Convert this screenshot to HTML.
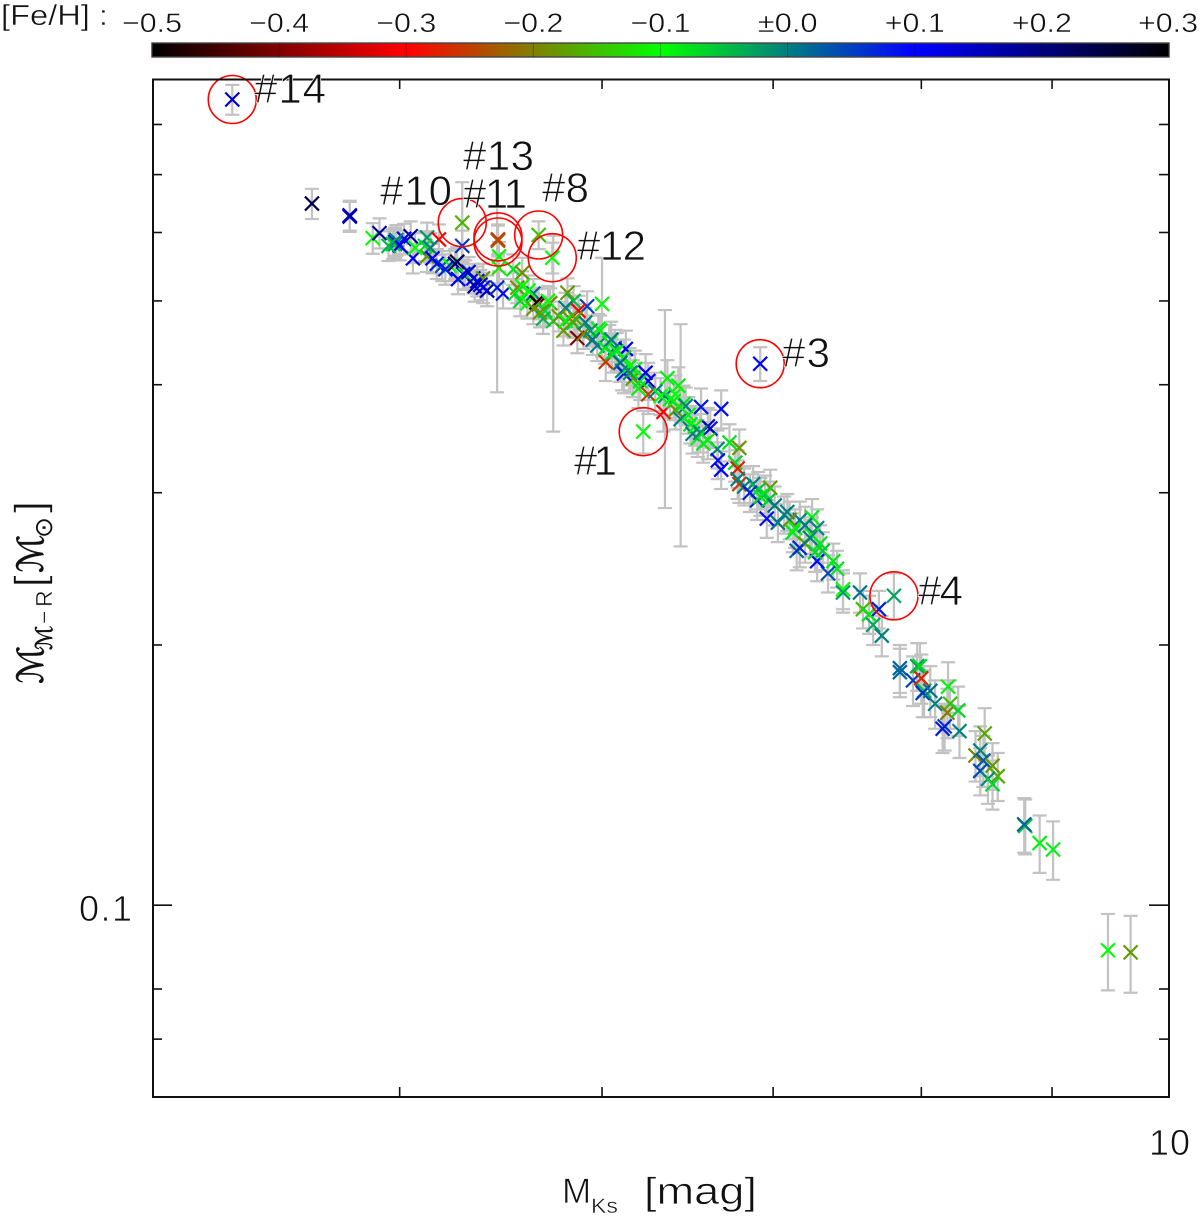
<!DOCTYPE html>
<html lang="en">
<head>
<meta charset="utf-8">
<title>Mass vs. absolute Ks magnitude</title>
<style>
html,body{margin:0;padding:0;background:#fff;}
svg{display:block;}
text{font-family:"Liberation Sans","DejaVu Sans",sans-serif;fill:#111;}
.thin{stroke:#fff;stroke-width:.7;}
.thin2{stroke:#fff;stroke-width:.45;}
.script{font-family:"DejaVu Serif","DejaVu Sans",serif;font-style:italic;stroke:#111;stroke-width:.5;}
</style>
</head>
<body>
<svg id="chart" xmlns="http://www.w3.org/2000/svg" width="1200" height="1216" viewBox="0 0 1200 1216">
  <defs>
    <linearGradient id="feh-gradient" x1="0" x2="1" y1="0" y2="0"></linearGradient>
  </defs>

  <text class="thin2" x="1" y="25" font-size="29" textLength="107" lengthAdjust="spacingAndGlyphs">[Fe/H] :</text>
  <g id="colorbar"></g>

  <g id="errorbars"></g>
  <g id="points"></g>
  <g id="circles"></g>

  <rect x="153" y="79.5" width="1016" height="1017.5" fill="none" stroke="#111" stroke-width="2"></rect>
  <g id="ticks"></g>

  <text class="thin" x="132" y="921" font-size="36" text-anchor="end" textLength="53" lengthAdjust="spacing">0.1</text>
  <text class="thin" x="1149" y="1155" font-size="36" textLength="41" lengthAdjust="spacing">10</text>

  <g>
    <text class="thin" x="562" y="1203" font-size="35">M</text>
    <text class="thin2" x="591" y="1213" font-size="21" textLength="27" lengthAdjust="spacingAndGlyphs">Ks</text>
    <text class="thin" x="644" y="1204" font-size="38" textLength="113" lengthAdjust="spacingAndGlyphs">[mag]</text>
  </g>

  <g transform="translate(43,684) rotate(-90)">
    <text class="script" x="0" y="0" font-size="36">ℳ</text>
    <text class="script" x="34" y="9" font-size="23">ℳ</text>
    <text class="thin2" x="60" y="9" font-size="23">−</text>
    <text class="thin2" x="77" y="9" font-size="23">R</text>
    <text class="thin" x="97" y="1" font-size="42">[</text>
    <text class="script" x="111" y="0" font-size="36">ℳ</text>
    <text x="146" y="9" font-size="25" style="font-family:'DejaVu Sans',sans-serif">⊙</text>
    <text class="thin" x="171" y="1" font-size="42">]</text>
  </g>

  <g>
    <text class="thin" x="254" y="103" font-size="42" textLength="72" lengthAdjust="spacing">#14</text>
    <text class="thin" x="463" y="170" font-size="42" textLength="71" lengthAdjust="spacing">#13</text>
    <text class="thin" x="380" y="205" font-size="42" textLength="72" lengthAdjust="spacing">#10</text>
    <text class="thin" x="463" y="208" font-size="42" textLength="64" lengthAdjust="spacing">#11</text>
    <text class="thin" x="542" y="202" font-size="42" textLength="47" lengthAdjust="spacing">#8</text>
    <text class="thin" x="577" y="260" font-size="42" textLength="69" lengthAdjust="spacing">#12</text>
    <text class="thin" x="782" y="367" font-size="42" textLength="48" lengthAdjust="spacing">#3</text>
    <text class="thin" x="574" y="475" font-size="42" textLength="43" lengthAdjust="spacing">#1</text>
    <text class="thin" x="918" y="605" font-size="42" textLength="45" lengthAdjust="spacing">#4</text>
  </g>
</svg>

<script>
const mks = [
  4.30,4.62,4.78,4.78,4.88,4.91,4.98,4.98,4.97,5.05,
  5.02,5.06,5.07,5.125,5.125,5.115,5.18,5.17,5.195,5.232,
  5.266,5.256,5.295,5.305,5.27,5.343,5.362,5.39,5.39,5.41,
  5.459,5.488,5.468,5.468,5.539,5.584,5.559,5.584,5.549,5.574,
  5.64,5.61,5.667,5.656,5.64,5.726,5.715,5.816,5.848,5.806,
  5.92,5.874,5.742,5.795,5.868,5.90,5.848,5.91,5.827,6.00,
  5.98,5.974,6.02,6.04,6.07,6.13,6.12,6.11,6.17,5.99,
  5.95,6.017,6.12,6.255,6.20,6.255,6.364,6.427,6.341,6.35,
  6.41,6.40,6.457,6.44,6.497,6.56,6.68,6.615,6.60,6.54,
  6.51,6.573,6.657,6.73,6.79,6.66,6.68,6.765,6.78,6.79,
  6.78,6.875,6.906,6.982,6.95,6.90,6.97,6.96,7.09,7.03,
  7.171,7.105,7.25,7.283,7.125,7.204,7.15,7.303,7.32,7.415,
  7.355,7.283,7.455,7.455,7.57,7.805,7.70,7.59,7.632,7.66,
  7.72,7.847,7.847,7.97,7.99,7.94,8.00,8.02,8.01,8.065,
  8.10,8.195,8.21,8.19,8.27,8.17,8.155,8.28,8.47,8.40,
  8.436,8.46,8.436,8.53,8.57,8.495,8.53,8.785,8.777,8.90,
  9.008,9.465,9.66,
  6.227,6.919,5.29,5.29,5.463,5.463,5.667,5.737,
  4.985,5.00,4.95,5.14,5.15,5.21,5.32,5.35,5.377,5.615,
  5.70,5.77,5.806,5.858,5.937,5.69,5.674,6.05,6.08,6.055,
  6.15,6.10,6.18,6.155,6.21,6.24,6.295,6.325,6.38,6.41,
  6.47,6.485,6.525,6.555,6.60,7.01,7.07,7.14,7.204,7.25,
  7.17,7.237,7.27,7.39,6.82,6.855,6.92
];
const mass = [
  .855,.648,.626,.628,.591,.599,.585,.582,.582,.594,
  .590,.560,.576,.592,.563,.579,.589,.552,.549,.549,
  .555,.552,.537,.536,.530,.531,.527,.531,.518,.514,
  .518,.510,.563,.546,.544,.539,.518,.520,.510,.500,
  .510,.497,.496,.498,.490,.497,.500,.511,.500,.491,
  .493,.487,.474,.462,.453,.458,.472,.472,.477,.496,
  .464,.444,.425,.447,.441,.440,.430,.415,.407,.462,
  .451,.441,.412,.404,.396,.390,.407,.399,.372,.388,
  .374,.383,.380,.365,.360,.377,.375,.356,.358,.347,
  .351,.342,.337,.343,.338,.327,.319,.325,.320,.307,
  .311,.307,.302,.304,.299,.294,.294,.280,.285,.277,
  .279,.279,.281,.273,.270,.262,.257,.262,.257,.245,
  .242,.250,.232,.230,.230,.228,.220,.220,.217,.211,
  .205,.188,.186,.189,.189,.182,.183,.177,.176,.177,
  .171,.179,.171,.167,.168,.161,.160,.159,.158,.149,
  .151,.147,.143,.145,.141,.140,.138,.1235,.124,.118,
  .116,.0887,.0882,
  .353,.423,.616,.579,.589,.587,.596,.561,
  .588,.580,.579,.576,.560,.544,.540,.520,.522,.514,
  .487,.480,.474,.477,.462,.477,.485,.451,.437,.435,
  .420,.424,.417,.413,.404,.413,.393,.388,.385,.390,
  .378,.369,.358,.352,.345,.290,.283,.273,.275,.268,
  .259,.266,.256,.250,.305,.300,.297
];
const massErr = [
  .034,.026,.025,.025,.024,.024,.023,.023,.023,.024,
  .024,.022,.023,.024,.023,.023,.024,.022,.022,.022,
  .022,.022,.021,.021,.021,.021,.021,.021,.021,.021,
  .126,.020,.022,.022,.022,.022,.021,.021,.020,.020,
  .020,.020,.020,.020,.020,.020,.020,.020,.020,.020,
  .020,.020,.121,.018,.018,.018,.019,.019,.019,.065,
  .019,.018,.021,.022,.022,.022,.021,.021,.020,.019,
  .018,.018,.021,.020,.020,.020,.020,.020,.019,.100,
  .019,.019,.019,.105,.018,.019,.019,.018,.018,.017,
  .018,.017,.017,.017,.017,.016,.016,.016,.016,.015,
  .016,.015,.015,.015,.015,.015,.015,.014,.014,.014,
  .014,.014,.014,.014,.014,.013,.013,.013,.013,.012,
  .012,.013,.012,.012,.012,.014,.011,.011,.011,.011,
  .011,.012,.012,.012,.012,.012,.012,.012,.011,.012,
  .011,.012,.011,.011,.011,.010,.010,.011,.011,.010,
  .010,.010,.009,.009,.009,.009,.009,.009,.009,.009,
  .009,.009,.009,
  .020,.019,.070,.024,.024,.024,.022,.023,
  .024,.023,.023,.023,.022,.022,.022,.021,.021,.021,
  .019,.019,.019,.019,.019,.019,.019,.022,.022,.022,
  .021,.021,.021,.021,.020,.021,.020,.019,.019,.020,
  .019,.018,.018,.018,.017,.015,.014,.014,.014,.013,
  .013,.013,.013,.012,.015,.015,.015
];
const feh = [
  .14,.24,.13,.17,-.10,.18,.09,.00,-.07,.18,
  .10,.11,-.10,-.02,-.18,-.07,-.30,.08,.03,-.10,
  .27,.20,.10,-.08,.10,.10,.13,-.18,.10,.16,
  .07,.09,-.10,-.12,-.08,-.19,-.19,-.10,-.08,-.07,
  .02,-.10,-.42,-.47,-.18,-.20,-.10,-.18,-.05,.00,
  .05,-.30,-.07,-.18,-.40,-.20,-.06,.00,-.18,-.10,
  -.09,.00,-.26,-.08,.01,.10,-.08,-.01,-.18,-.09,
  .01,-.09,.08,.10,-.09,-.25,-.09,-.09,-.30,.00,
  -.18,-.09,-.08,.00,-.08,.08,.09,.09,.15,-.09,
  .00,-.08,.00,-.08,-.18,.09,.10,-.07,-.28,-.25,
  .00,.00,-.05,-.18,-.07,.07,-.06,.09,.00,.01,
  .00,-.19,-.09,.00,-.08,-.18,.01,-.08,-.06,-.08,
  .04,.09,-.10,-.02,.01,-.03,.08,-.15,-.08,-.03,
  .00,.02,.02,-.03,-.07,.05,-.27,-.05,.06,.01,
  .00,-.09,-.15,-.20,-.07,.06,.08,.00,-.17,-.20,
  .00,.03,.04,-.18,-.17,-.01,-.07,-.06,.02,-.09,
  -.09,-.10,-.18,
  -.10,.10,-.16,.06,-.27,-.24,-.15,-.10,
  .00,.10,-.04,.00,.12,.08,.15,.17,.12,-.10,
  -.07,-.18,-.09,-.17,-.02,-.04,-.18,.00,-.09,-.07,
  -.09,.02,-.10,-.01,-.08,.10,.00,-.10,-.08,-.10,
  .00,-.09,-.09,-.01,-.09,.01,.00,-.09,.01,-.09,
  .07,.00,-.07,-.08,.00,.08,-.08
];
const circleMks = [4.30,6.919,6.227,7.805,5.29,5.463,5.463,5.667,5.737];
const circleMass = [.855,.423,.353,.228,.616,.593,.585,.596,.561];
const xTicks = [5,6,7,8,9];
const yMinorTicks = [.07,.08,.2,.3,.4,.5,.6,.7,.8];
const yMajorTicks = [.1];
const fehTicks = [-.5,-.4,-.3,-.2,-.1,0,.1,.2,.3];
const fehTickLabels = ["−0.5","−0.4","−0.3","−0.2","−0.1","±0.0","+0.1","+0.2","+0.3"];
const fehStops = [-.5,-.3,-.1,.1,.3];
const stopRed = [0,255,0,0,0];
const stopGreen = [0,0,255,0,0];
const stopBlue = [0,0,0,255,0];

const NS = "http://www.w3.org/2000/svg";
const PLOT = {left:152, right:1169, top:79, bottom:1097};
const xMin = 4, xMax = 10, yMin = .06, yMax = .903;
function xOf(v){ return PLOT.left + (PLOT.right-PLOT.left)*Math.log(v/xMin)/Math.log(xMax/xMin); }
function yOf(v){ return PLOT.bottom - (PLOT.bottom-PLOT.top)*Math.log(v/yMin)/Math.log(yMax/yMin); }
function fehX(v){ return PLOT.left + (PLOT.right-PLOT.left)*(v+.5)/.8; }
function fehColor(v){
  const c = Math.max(-.5,Math.min(.3,v));
  let i = 0;
  while(i < fehStops.length-2 && c > fehStops[i+1]) i++;
  const t = (c-fehStops[i])/(fehStops[i+1]-fehStops[i]);
  const r = Math.round(stopRed[i]+(stopRed[i+1]-stopRed[i])*t);
  const g = Math.round(stopGreen[i]+(stopGreen[i+1]-stopGreen[i])*t);
  const b = Math.round(stopBlue[i]+(stopBlue[i+1]-stopBlue[i])*t);
  return "rgb("+r+","+g+","+b+")";
}
function el(tag,parent,attrs){
  const e = document.createElementNS(NS,tag);
  for(const k in attrs) e.setAttribute(k,attrs[k]);
  parent.appendChild(e);
  return e;
}

/* colour bar */
const grad = document.getElementById("feh-gradient");
fehStops.forEach(function(v){
  el("stop",grad,{offset:(v+.5)/.8,"stop-color":fehColor(v)});
});
const colorbar = document.getElementById("colorbar");
const barRect = el("rect",colorbar,{x:PLOT.left,y:43,width:PLOT.right-PLOT.left,height:14,fill:"url(#feh-gradient)",stroke:"#444","stroke-width":1.4});


fehTicks.forEach(function(v,i){
  const tk = el("line",colorbar,{x1:fehX(v),x2:fehX(v),y1:43,y2:57,stroke:"#000","stroke-opacity":.3,"stroke-width":1});
  
  
  const lbl = el("text",colorbar,{x:fehX(v),y:32,"font-size":27,"text-anchor":i===8?"end":"middle","class":"thin2"});
  if(i===8){ lbl.setAttribute("x",PLOT.right+29); }
  lbl.setAttribute("textLength",60);
  lbl.setAttribute("lengthAdjust","spacingAndGlyphs");
  
  
  lbl.textContent = fehTickLabels[i];
});

/* error bars */
const errGroup = document.getElementById("errorbars");
mks.forEach(function(v,i){
  const x = xOf(v), y1 = yOf(mass[i]+massErr[i]), y2 = yOf(mass[i]-massErr[i]);
  const path = el("path",errGroup,{d:"M"+(x-7)+" "+y1+"H"+(x+7)+"M"+x+" "+y1+"V"+y2+"M"+(x-7)+" "+y2+"H"+(x+7),fill:"none",stroke:"#c2c2c2","stroke-width":2.2});
  
  
});

/* markers */
const pointGroup = document.getElementById("points");
mks.forEach(function(v,i){
  const x = xOf(v), y = yOf(mass[i]), s = 7;
  const mark = el("path",pointGroup,{d:"M"+(x-s)+" "+(y-s)+"L"+(x+s)+" "+(y+s)+"M"+(x-s)+" "+(y+s)+"L"+(x+s)+" "+(y-s),fill:"none",stroke:fehColor(feh[i]),"stroke-width":2.2});
  
  
});

/* highlight circles */
const circleGroup = document.getElementById("circles");
circleMks.forEach(function(v,i){
  const c = el("circle",circleGroup,{cx:xOf(v),cy:yOf(circleMass[i]),r:24,fill:"none",stroke:"#f00","stroke-width":1.6});
  
  
});

/* ticks */
const tickGroup = document.getElementById("ticks");
function tick(x1,y1,x2,y2){
  const t = el("line",tickGroup,{x1:x1,y1:y1,x2:x2,y2:y2,stroke:"#111","stroke-width":1.6});
  
  
}
xTicks.forEach(function(v){
  const x = xOf(v);
  tick(x,PLOT.bottom,x,PLOT.bottom-10);
  tick(x,PLOT.top,x,PLOT.top+10);
});
yMinorTicks.forEach(function(v){
  const y = yOf(v);
  tick(PLOT.left,y,PLOT.left+10,y);
  tick(PLOT.right,y,PLOT.right-10,y);
});
yMajorTicks.forEach(function(v){
  const y = yOf(v);
  tick(PLOT.left,y,PLOT.left+20,y);
  tick(PLOT.right,y,PLOT.right-20,y);
});
</script>
</body>
</html>
